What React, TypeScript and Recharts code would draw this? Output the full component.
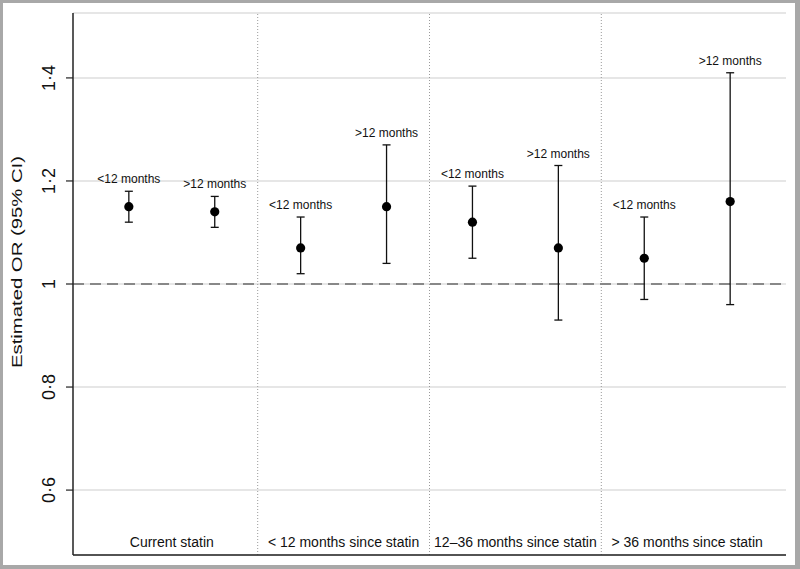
import {
  ComposedChart,
  Scatter,
  XAxis,
  YAxis,
  CartesianGrid,
  ReferenceLine,
  ErrorBar,
} from "recharts";

const positions = [1, 2, 3, 4, 5, 6, 7, 8];
const subgroups = [
  "<12 months",
  ">12 months",
  "<12 months",
  ">12 months",
  "<12 months",
  ">12 months",
  "<12 months",
  ">12 months",
];
const estimates = [1.15, 1.14, 1.07, 1.15, 1.12, 1.07, 1.05, 1.16];
const lower = [1.12, 1.11, 1.02, 1.04, 1.05, 0.93, 0.97, 0.96];
const upper = [1.18, 1.17, 1.13, 1.27, 1.19, 1.23, 1.13, 1.41];

const groups = [
  "Current statin",
  "< 12 months since statin",
  "12–36 months since statin",
  "> 36 months since statin",
];
const groupCenters = [1.5, 3.5, 5.5, 7.5];
const separators = [2.5, 4.5, 6.5];

const yTicks = [0.6, 0.8, 1, 1.2, 1.4];
const yTickLabels = ["0·6", "0·8", "1", "1·2", "1·4"];
const yTitle = "Estimated OR (95% CI)";

const FONT = "'Liberation Sans', Arial, Helvetica, sans-serif";

const points = positions.map((x, i) => ({
  x,
  y: estimates[i],
  ci: [estimates[i] - lower[i], upper[i] - estimates[i]],
}));

const labelPoints = positions.map((x, i) => ({
  x,
  y: upper[i],
  label: subgroups[i],
}));

const Dot = (props: any) => (
  <circle cx={props.cx} cy={props.cy} r={4.6} fill="#000" />
);

const TopLabel = (props: any) => (
  <text
    x={props.cx}
    y={props.cy - 8}
    textAnchor="middle"
    fontSize={12}
    fontFamily={FONT}
    fill="#111"
  >
    {props.payload.label}
  </text>
);

const GroupTick = (props: any) => {
  const idx = groupCenters.indexOf(props.payload.value);
  return (
    <text
      x={props.x}
      y={props.y - 8}
      textAnchor="middle"
      fontSize={14}
      fontFamily={FONT}
      fill="#111"
    >
      {groups[idx]}
    </text>
  );
};

const YTick = (props: any) => {
  const idx = yTicks.indexOf(props.payload.value);
  const x = props.x - 11;
  return (
    <text
      x={x}
      y={props.y}
      transform={`rotate(-90, ${x}, ${props.y})`}
      textAnchor="middle"
      fontSize={18}
      fontFamily={FONT}
      fill="#111"
    >
      {yTickLabels[idx]}
    </text>
  );
};

const YTitle = (props: any) => {
  const vb = props.viewBox || { x: 0, y: 10, width: 70, height: 542 };
  const x = vb.x + 19;
  const y = vb.y + vb.height / 2 - 22;
  return (
    <text
      x={x}
      y={y}
      transform={`rotate(-90, ${x}, ${y})`}
      textAnchor="middle"
      fontSize={14}
      textLength={212}
      lengthAdjust="spacingAndGlyphs"
      fontFamily={FONT}
      fill="#111"
    >
      {yTitle}
    </text>
  );
};

export default function App() {
  return (
    <div
      style={{
        position: "absolute",
        left: 0,
        top: 0,
        width: 800,
        height: 569,
        boxSizing: "border-box",
        borderStyle: "solid",
        borderColor: "#a8a8a8",
        borderWidth: "3px 5px 4px 3px",
        background: "#fff",
      }}
    >
      <ComposedChart
        width={792}
        height={562}
        margin={{ top: 10, right: 9, bottom: 0, left: 0 }}
      >
        <CartesianGrid
          vertical={false}
          stroke="#dedede"
          strokeWidth={1.5}
        />
        <XAxis
          type="number"
          dataKey="x"
          domain={[0.35, 8.65]}
          ticks={groupCenters}
          tick={<GroupTick />}
          tickLine={false}
          tickSize={0}
          tickMargin={0}
          height={10}
          axisLine={{ stroke: "#222", strokeWidth: 1.5 }}
          interval={0}
        />
        <YAxis
          type="number"
          dataKey="y"
          domain={[0.474, 1.526]}
          ticks={yTicks}
          tick={<YTick />}
          tickSize={7}
          tickMargin={0}
          tickLine={{ stroke: "#222", strokeWidth: 1.2 }}
          axisLine={{ stroke: "#222", strokeWidth: 1.5 }}
          width={70}
          interval={0}
          label={<YTitle />}
        />
        {separators.map((s) => (
          <ReferenceLine
            key={s}
            x={s}
            stroke="#9a9a9a"
            strokeWidth={1}
            strokeDasharray="1 2"
          />
        ))}
        <ReferenceLine
          y={1}
          stroke="#888"
          strokeWidth={2}
          strokeDasharray="11 6"
        />
        <Scatter
          data={points}
          dataKey="y"
          shape={<Dot />}
          isAnimationActive={false}
        >
          <ErrorBar
            dataKey="ci"
            direction="y"
            width={4}
            stroke="#111"
            strokeWidth={1.3}
            isAnimationActive={false}
          />
        </Scatter>
        <Scatter
          data={labelPoints}
          dataKey="y"
          shape={<TopLabel />}
          isAnimationActive={false}
        />
      </ComposedChart>
    </div>
  );
}
